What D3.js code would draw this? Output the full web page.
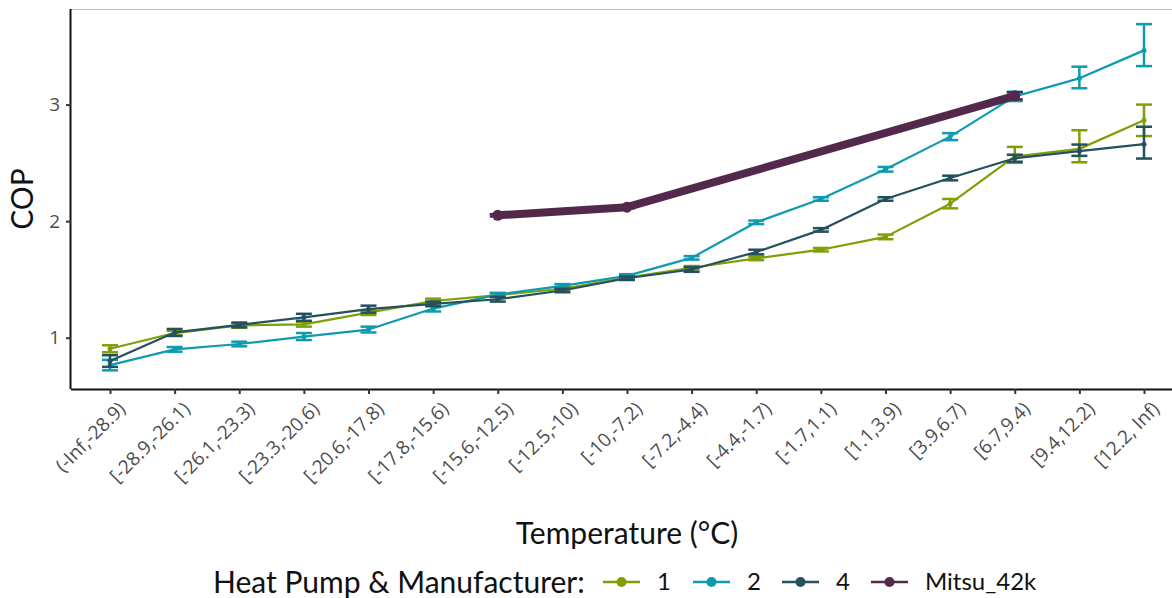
<!DOCTYPE html>
<html>
<head>
<meta charset="utf-8">
<script src="https://cdn.jsdelivr.net/npm/d3@7"></script>
<style>
  body { margin: 0; background: #fff; }
  svg text { font-family: Lato, "Open Sans", sans-serif; }
</style>
</head>
<body>
<svg id="chart" width="1172" height="598"></svg>
<script>
const categories = ["(-Inf,-28.9)", "[-28.9,-26.1)", "[-26.1,-23.3)", "[-23.3,-20.6)", "[-20.6,-17.8)",
  "[-17.8,-15.6)", "[-15.6,-12.5)", "[-12.5,-10)", "[-10,-7.2)", "[-7.2,-4.4)", "[-4.4,-1.7)",
  "[-1.7,1.1)", "[1.1,3.9)", "[3.9,6.7)", "[6.7,9.4)", "[9.4,12.2)", "[12.2, Inf)"];
const yTicks = [1, 2, 3];

// COP means with lower / upper error bounds per heat pump
const cop1 = [0.905, 1.04, 1.105, 1.115, 1.215, 1.315, 1.365, 1.42, 1.515, 1.60, 1.68, 1.755, 1.865, 2.15, 2.555, 2.62, 2.865];
const lo1  = [0.875, 1.02, 1.085, 1.095, 1.195, 1.295, 1.35, 1.405, 1.50, 1.585, 1.665, 1.74, 1.845, 2.11, 2.50, 2.505, 2.73];
const hi1  = [0.935, 1.06, 1.125, 1.135, 1.235, 1.335, 1.38, 1.435, 1.53, 1.615, 1.695, 1.77, 1.885, 2.19, 2.637, 2.78, 3.0];
const cop2 = [0.765, 0.90, 0.946, 1.01, 1.07, 1.25, 1.37, 1.445, 1.53, 1.685, 1.99, 2.19, 2.445, 2.725, 3.07, 3.225, 3.465];
const lo2  = [0.72, 0.88, 0.926, 0.98, 1.045, 1.225, 1.355, 1.43, 1.515, 1.67, 1.975, 2.175, 2.425, 2.695, 3.03, 3.14, 3.33];
const hi2  = [0.81, 0.92, 0.966, 1.04, 1.095, 1.275, 1.385, 1.46, 1.545, 1.70, 2.005, 2.205, 2.465, 2.755, 3.11, 3.325, 3.69];
const cop4 = [0.80, 1.045, 1.11, 1.175, 1.245, 1.29, 1.33, 1.405, 1.51, 1.585, 1.735, 1.925, 2.19, 2.37, 2.54, 2.60, 2.66];
const lo4  = [0.75, 1.015, 1.09, 1.145, 1.215, 1.27, 1.31, 1.39, 1.495, 1.565, 1.715, 1.91, 2.175, 2.35, 2.51, 2.56, 2.537];
const hi4  = [0.85, 1.075, 1.13, 1.205, 1.275, 1.31, 1.35, 1.42, 1.525, 1.605, 1.755, 1.94, 2.205, 2.39, 2.57, 2.657, 2.81];
const mitsuCats = ["[-15.6,-12.5)", "[-10,-7.2)", "[6.7,9.4)"];
const mitsuCop = [2.05, 2.12, 3.075];
const mitsuLo  = [2.04, 2.11, 3.045];
const mitsuHi  = [2.06, 2.13, 3.105];

const seriesNames = ["1", "2", "4", "Mitsu_42k"];
const colors = ["#7f9f05", "#0e9bb0", "#24505f", "#52294a"];

const series = [
  { name: "1", cats: categories, cop: cop1, lo: lo1, hi: hi1 },
  { name: "2", cats: categories, cop: cop2, lo: lo2, hi: hi2 },
  { name: "4", cats: categories, cop: cop4, lo: lo4, hi: hi4 },
  { name: "Mitsu_42k", cats: mitsuCats, cop: mitsuCop, lo: mitsuLo, hi: mitsuHi }
];

const svg = d3.select("#chart");
const pLeft = 71, pRight = 1190, pTop = 9, pBottom = 389;

const x = d3.scalePoint().domain(categories).range([110, 1144]);
const y = d3.scaleLinear().domain([0.56, 3.82]).range([pBottom, pTop]);
const color = d3.scaleOrdinal().domain(seriesNames).range(colors);

// top border
svg.append("line")
  .attr("x1", pLeft).attr("x2", pRight).attr("y1", pTop + 0.5).attr("y2", pTop + 0.5)
  .attr("stroke", "#bdbdbd").attr("stroke-width", 1);

// axes
const xAxis = svg.append("g")
  .attr("transform", `translate(0,${pBottom})`)
  .call(d3.axisBottom(x).tickSize(5).tickPadding(4));
xAxis.select(".domain").attr("stroke", "#111").attr("stroke-width", 2)
  .attr("d", `M${pLeft},0.5H${pRight}`);
xAxis.selectAll(".tick line").attr("stroke", "#333").attr("stroke-width", 2);
xAxis.selectAll(".tick text")
  .attr("fill", "#4d4d4d")
  .style("font-family", "'Open Sans', sans-serif")
  .style("font-size", "19px")
  .attr("text-anchor", "end")
  .attr("dy", "0.35em")
  .attr("transform", "translate(5,10) rotate(-45)");

const yAxis = svg.append("g")
  .attr("transform", `translate(${pLeft},0)`)
  .call(d3.axisLeft(y).tickValues(yTicks).tickFormat(d3.format("d")).tickSize(5).tickPadding(6));
yAxis.select(".domain").attr("stroke", "#111").attr("stroke-width", 2)
  .attr("d", `M-0.5,${pTop}V${pBottom}`);
yAxis.selectAll(".tick line").attr("stroke", "#333").attr("stroke-width", 2);
yAxis.selectAll(".tick text")
  .attr("fill", "#4d4d4d")
  .style("font-family", "'Open Sans', sans-serif")
  .style("font-size", "19px");

// axis titles
svg.append("text")
  .attr("x", 627).attr("y", 544)
  .attr("text-anchor", "middle")
  .style("font-size", "30px").attr("fill", "#111")
  .text("Temperature (°C)");
svg.append("text")
  .attr("transform", `translate(33,${(pTop + pBottom) / 2}) rotate(-90)`)
  .attr("text-anchor", "middle")
  .style("font-size", "30px").attr("fill", "#111")
  .text("COP");

// series
const line = d3.line().x(d => x(d.cat)).y(d => y(d.v));
series.forEach(s => {
  const pts = s.cats.map((c, i) => ({ cat: c, v: s.cop[i], lo: s.lo[i], hi: s.hi[i] }));
  const g = svg.append("g").attr("stroke", color(s.name)).attr("fill", color(s.name));
  const mitsu = s.name === "Mitsu_42k";

  const eb = g.selectAll(".eb").data(pts).enter().append("g").attr("class", "eb")
    .attr("stroke-width", 2.5);
  eb.append("line")
    .attr("x1", d => x(d.cat)).attr("x2", d => x(d.cat))
    .attr("y1", d => y(d.lo)).attr("y2", d => y(d.hi));
  ["lo", "hi"].forEach(k => {
    eb.append("line")
      .attr("x1", d => x(d.cat) - 8).attr("x2", d => x(d.cat) + 8)
      .attr("y1", d => y(d[k])).attr("y2", d => y(d[k]));
  });

  g.append("path").datum(pts)
    .attr("fill", "none")
    .attr("stroke-width", mitsu ? 8 : 2.2)
    .attr("stroke-linejoin", "round")
    .attr("d", line);

  g.selectAll("circle").data(pts).enter().append("circle")
    .attr("stroke", "none")
    .attr("cx", d => x(d.cat)).attr("cy", d => y(d.v))
    .attr("r", mitsu ? 5.5 : 2.5);
});

// legend
const legY = 582;
svg.append("text")
  .attr("x", 213).attr("y", legY).attr("dy", "0.35em")
  .style("font-size", "30px").attr("fill", "#111")
  .text("Heat Pump & Manufacturer:");
const keyX = [603, 693, 782, 871];
seriesNames.forEach((n, i) => {
  const g = svg.append("g").attr("transform", `translate(${keyX[i]},${legY})`);
  g.append("line").attr("x1", 0).attr("x2", 37).attr("y1", 0).attr("y2", 0)
    .attr("stroke", color(n)).attr("stroke-width", 2.5);
  g.append("circle").attr("cx", 18.5).attr("cy", 0).attr("r", 5).attr("fill", color(n));
  g.append("text").attr("x", 54).attr("dy", "0.35em")
    .style("font-size", "24px").attr("fill", "#111").text(n);
});
</script>
</body>
</html>
